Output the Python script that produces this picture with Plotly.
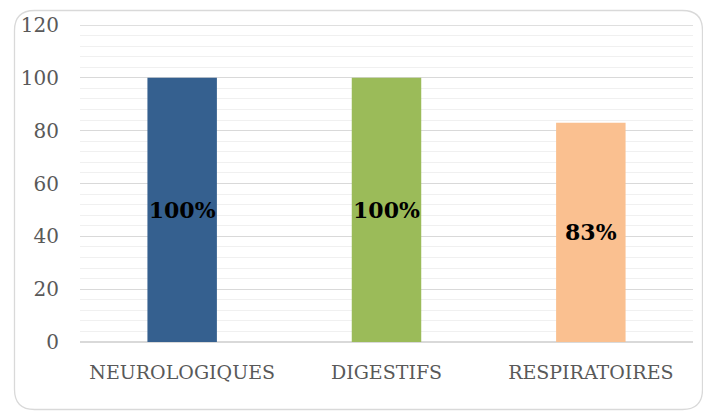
import plotly.graph_objects as go

categories = ["NEUROLOGIQUES", "DIGESTIFS", "RESPIRATOIRES"]
values = [100, 100, 83]
labels = ["100%", "100%", "83%"]
colors = ["#35608F", "#9BBB59", "#FAC090"]
y_ticks = [0, 20, 40, 60, 80, 100, 120]

W, H = 703, 412
L, R, T, B = 80, 10, 25, 70
pw, ph = W - L - R, H - T - B


def px(x):
    return (x - L) / pw


def py(y):
    return (H - B - y) / ph


fig = go.Figure(
    go.Bar(
        x=categories,
        y=values,
        text=labels,
        marker=dict(color=colors, line=dict(width=0)),
        width=0.34,
        textposition="inside",
        insidetextanchor="middle",
        constraintext="none",
        textangle=0,
        textfont=dict(family="DejaVu Serif", size=22, color="#000000", weight="bold"),
        cliponaxis=False,
    )
)

# rounded frame around the whole chart
x0, x1, y0, y1, r = 14.5, 702.5, 10.5, 409.5, 20
path = (
    f"M {px(x0)},{py(y0 + r)} Q {px(x0)},{py(y0)} {px(x0 + r)},{py(y0)} "
    f"L {px(x1 - r)},{py(y0)} Q {px(x1)},{py(y0)} {px(x1)},{py(y0 + r)} "
    f"L {px(x1)},{py(y1 - r)} Q {px(x1)},{py(y1)} {px(x1 - r)},{py(y1)} "
    f"L {px(x0 + r)},{py(y1)} Q {px(x0)},{py(y1)} {px(x0)},{py(y1 - r)} Z"
)
fig.add_shape(type="path", path=path, xref="paper", yref="paper",
              line=dict(color="#D9D9D9", width=1.3), layer="below")

# top gridline at the end of the value range
fig.add_shape(type="line", xref="paper", yref="y", x0=0, x1=1,
              y0=y_ticks[-1], y1=y_ticks[-1],
              line=dict(color="#D4D4D4", width=1.5), layer="above")

fig.update_layout(
    width=W,
    height=H,
    margin=dict(l=L, r=R, t=T, b=B),
    paper_bgcolor="white",
    plot_bgcolor="rgba(0,0,0,0)",
    showlegend=False,
    font=dict(family="DejaVu Serif", size=18, color="#595959"),
    bargap=0.66,
)
fig.update_xaxes(
    showgrid=False,
    showline=False,
    ticks="",
    tickfont=dict(size=19, color="#595959"),
    ticklabelstandoff=17,
)
fig.update_yaxes(
    range=[0, 120],
    tickvals=y_ticks,
    showgrid=True,
    gridcolor="#D9D9D9",
    gridwidth=1.2,
    minor=dict(dtick=4, showgrid=True, gridcolor="#F0F0F0", gridwidth=1),
    zeroline=True,
    zerolinecolor="#D9D9D9",
    zerolinewidth=1.5,
    showline=False,
    ticks="",
    tickfont=dict(size=20, color="#595959"),
    ticklabelstandoff=20,
)

fig.write_html("out.html")
